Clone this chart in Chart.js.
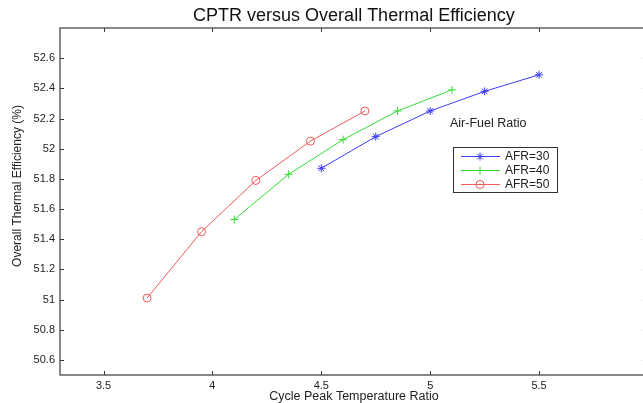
<!DOCTYPE html>
<html>
<head>
<meta charset="utf-8">
<script src="https://cdn.jsdelivr.net/npm/chart.js@4/dist/chart.umd.min.js"></script>
<style>
    html, body { margin: 0; padding: 0; background: #fff; overflow: hidden; }
    #wrap { width: 655px; height: 403px; }
</style>
</head>
<body>
<div id="wrap"><canvas id="cptrChart" width="655" height="403"></canvas></div>
<script>
// Cycle peak temperature ratio (x) vs overall thermal efficiency (y), one series per AFR
const afr30X = [4.5, 4.75, 5.0, 5.25, 5.5];
const afr30Y = [51.87, 52.08, 52.25, 52.38, 52.49];
const afr40X = [4.1, 4.35, 4.6, 4.85, 5.1];
const afr40Y = [51.53, 51.83, 52.06, 52.25, 52.39];
const afr50X = [3.7, 3.95, 4.2, 4.45, 4.7];
const afr50Y = [51.01, 51.45, 51.79, 52.05, 52.25];

const seriesLabels = ['AFR=30', 'AFR=40', 'AFR=50'];
const xTicks = [3.5, 4, 4.5, 5, 5.5, 6];
const yTicks = [50.6, 50.8, 51, 51.2, 51.4, 51.6, 51.8, 52, 52.2, 52.4, 52.6];

const FONT = "'Liberation Sans', Arial, sans-serif";

const toPoints = (xs, ys) => xs.map((x, i) => ({ x: x, y: ys[i] }));

// box + inward tick marks on all four sides, like the original plot
const framePlugin = {
    id: 'frame',
    afterDraw(chart) {
        const { ctx, chartArea: a, scales } = chart;
        ctx.save();
        ctx.strokeStyle = '#3a3a3a';
        ctx.lineWidth = 1.2;
        ctx.strokeRect(a.left, a.top, a.right - a.left, a.bottom - a.top);
        ctx.lineWidth = 1;
        ctx.beginPath();
        scales.x.ticks.forEach(t => {
            const px = Math.round(scales.x.getPixelForValue(t.value)) + 0.5;
            ctx.moveTo(px, a.bottom); ctx.lineTo(px, a.bottom - 4);
            ctx.moveTo(px, a.top); ctx.lineTo(px, a.top + 4);
        });
        scales.y.ticks.forEach(t => {
            const py = Math.round(scales.y.getPixelForValue(t.value)) + 0.5;
            ctx.moveTo(a.left, py); ctx.lineTo(a.left + 4, py);
            ctx.moveTo(a.right, py); ctx.lineTo(a.right - 5, py);
        });
        ctx.stroke();

        // y axis title
        ctx.fillStyle = '#222';
        ctx.font = '12px ' + FONT;
        ctx.textAlign = 'center';
        ctx.textBaseline = 'middle';
        ctx.translate(18, 186);
        ctx.rotate(-Math.PI / 2);
        ctx.fillText('Overall Thermal Efficiency (%)', 0, 0);
        ctx.restore();
    }
};

// legend box inside the plot with its heading
const legendPlugin = {
    id: 'boxLegend',
    afterDraw(chart) {
        const ctx = chart.ctx;
        const bx = 453, by = 147, bw = 104, bh = 45;
        ctx.save();
        ctx.fillStyle = '#222';
        ctx.font = '12.5px ' + FONT;
        ctx.textAlign = 'left';
        ctx.textBaseline = 'middle';
        ctx.fillText('Air-Fuel Ratio', 450, 124);

        ctx.fillStyle = '#fff';
        ctx.fillRect(bx, by, bw, bh);
        ctx.strokeStyle = '#333';
        ctx.lineWidth = 1;
        ctx.strokeRect(bx + 0.5, by + 0.5, bw, bh);

        chart.data.datasets.forEach((ds, i) => {
            const y = by + 9.5 + i * 14;
            ctx.strokeStyle = ds.borderColor;
            ctx.lineWidth = 1;
            ctx.beginPath();
            ctx.moveTo(461, y); ctx.lineTo(500, y);
            ctx.stroke();
            if (Chart.helpers && Chart.helpers.drawPoint) {
                ctx.fillStyle = 'rgba(0,0,0,0)';
                Chart.helpers.drawPoint(ctx, {
                    pointStyle: ds.pointStyle, radius: ds.pointRadius,
                    borderWidth: 1, rotation: 0
                }, 480, y);
            }
            ctx.fillStyle = '#222';
            ctx.font = '12px ' + FONT;
            ctx.fillText(ds.label, 505, y + 0.5);
        });
        ctx.restore();
    }
};

const colors = ['#3a3af5', '#33dd33', '#ef5a5a'];
const styles = ['star', 'cross', 'circle'];
const seriesData = [toPoints(afr30X, afr30Y), toPoints(afr40X, afr40Y), toPoints(afr50X, afr50Y)];

new Chart(document.getElementById('cptrChart'), {
    type: 'line',
    data: {
        datasets: seriesData.map((d, i) => ({
            label: seriesLabels[i],
            data: d,
            borderColor: colors[i],
            backgroundColor: 'rgba(0,0,0,0)',
            pointBorderColor: colors[i],
            pointBackgroundColor: 'rgba(0,0,0,0)',
            borderWidth: 1,
            pointStyle: styles[i],
            pointRadius: 4,
            pointBorderWidth: 1,
            tension: 0,
            fill: false
        }))
    },
    options: {
        responsive: false,
        animation: false,
        layout: { padding: { left: 0, right: 0, top: 0, bottom: 0 } },
        plugins: {
            legend: { display: false },
            tooltip: { enabled: false },
            title: {
                display: true,
                text: 'CPTR versus Overall Thermal Efficiency',
                fullSize: false,
                color: '#111',
                font: { family: FONT, size: 18, weight: 'normal', lineHeight: 1.2 },
                padding: { top: 5, bottom: 1.4 }
            }
        },
        scales: {
            x: {
                type: 'linear',
                min: 3.3,
                max: 6.0,
                afterBuildTicks: s => { s.ticks = xTicks.map(v => ({ value: v })); },
                afterFit: s => { s.height = 28; },
                grid: { display: false, drawTicks: false },
                border: { display: false },
                ticks: {
                    font: { family: FONT, size: 11 },
                    color: '#222',
                    padding: 4,
                    maxRotation: 0,
                    autoSkip: false,
                    callback: v => String(v)
                },
                title: {
                    display: true,
                    text: 'Cycle Peak Temperature Ratio',
                    color: '#222',
                    font: { family: FONT, size: 12.5, lineHeight: 1 },
                    padding: { top: 0, bottom: 0 }
                }
            },
            y: {
                type: 'linear',
                min: 50.5,
                max: 52.8,
                afterBuildTicks: s => { s.ticks = yTicks.map(v => ({ value: v })); },
                afterFit: s => { s.width = 60; },
                grid: { display: false, drawTicks: false },
                border: { display: false },
                ticks: {
                    font: { family: FONT, size: 11 },
                    color: '#222',
                    padding: 5,
                    autoSkip: false,
                    callback: v => String(Math.round(v * 10) / 10)
                }
            }
        }
    },
    plugins: [framePlugin, legendPlugin]
});
</script>
</body>
</html>
